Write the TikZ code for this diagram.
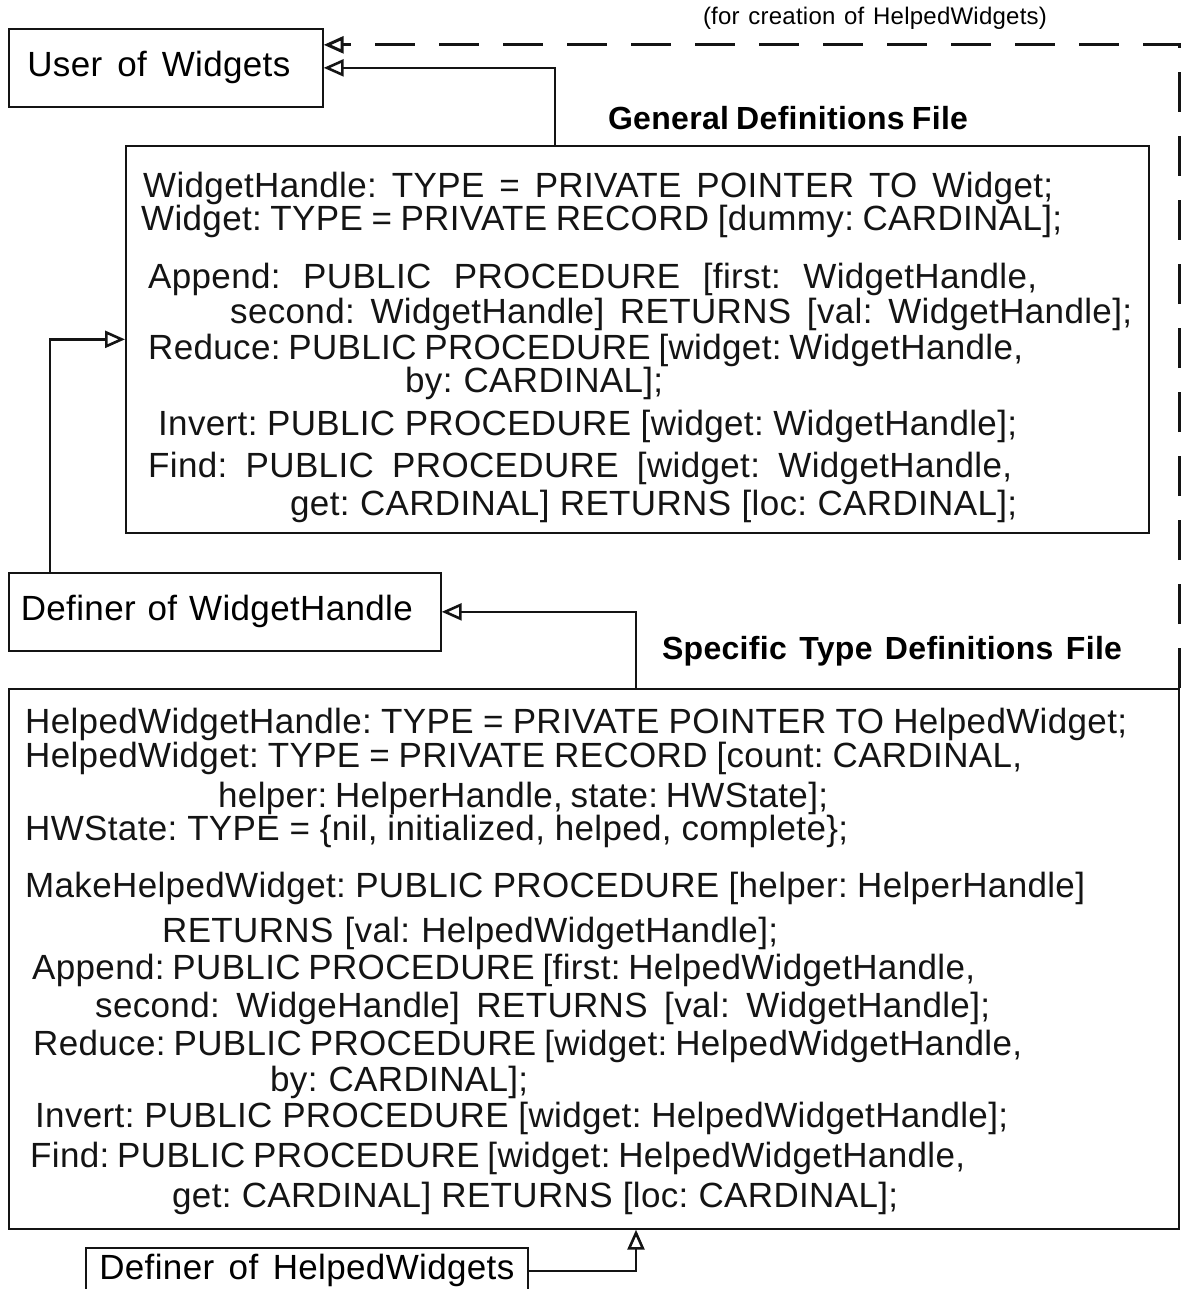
\documentclass[tikz,border=0pt]{standalone}
\usepackage{fontspec}
\setmainfont[LetterSpace=1]{Liberation Sans}
\usetikzlibrary{arrows.meta}
\definecolor{wink}{HTML}{141414}
\frenchspacing

\begin{document}
\begin{tikzpicture}[
  x=1pt,y=-1pt,
  font=\fontsize{35}{41}\selectfont,
  box/.style={draw=wink,line width=1.7pt,inner sep=0pt,anchor=north west},
  link/.style={draw=wink,line width=2.6pt,-{Triangle[open,length=20pt,width=17pt]}},
  dashlink/.style={link,line width=3pt,dash pattern=on 40pt off 24pt},
  title/.style={font=\bfseries\fontsize{32}{38}\selectfont},
  note/.style={font=\fontsize{24}{28}\selectfont},
  code/.style={anchor=base west,inner sep=0pt,text=wink}
]
  \useasboundingbox (0,0) rectangle (1182,1289);
  \node[box,minimum width=314pt,minimum height=78pt] (user) at (8,28)
    {\hspace*{-14pt}\makebox[263pt][s]{User of Widgets}};
  \node[box,minimum width=1023pt,minimum height=387pt] (gen) at (125,145) {};
  \node[box,minimum width=432pt,minimum height=78pt] (dwh) at (8,572)
    {\hspace*{-16pt}\makebox[392pt][s]{Definer of WidgetHandle}};
  \node[box,minimum width=1170pt,minimum height=540pt] (spec) at (8,688) {};
  \node[box,minimum width=442pt,minimum height=46pt] (dhw) at (85,1247)
    {\makebox[415pt][s]{Definer of HelpedWidgets}};
  \node[note] (forlbl) at (875,18) {\makebox[344pt][s]{(for creation of HelpedWidgets)}};
  \node[title] (genlbl) at (788,118) {\makebox[360pt][s]{General Definitions File}};
  \node[title] (speclbl) at (892,651) {\makebox[460pt][s]{Specific Type Definitions File}};
  \foreach \x/\y/\w/\txt [count=\i] in {
      143/198/910/{WidgetHandle: TYPE = PRIVATE POINTER TO Widget;},
      141/231/921/{Widget: TYPE = PRIVATE RECORD [dummy: CARDINAL];},
      148/288/889/{Append: PUBLIC PROCEDURE [first: WidgetHandle,},
      230/323/902/{second: WidgetHandle] RETURNS [val: WidgetHandle];},
      148/359/875/{Reduce: PUBLIC PROCEDURE [widget: WidgetHandle,},
      405/392/258/{by: CARDINAL];},
      158/435/859/{Invert: PUBLIC PROCEDURE [widget: WidgetHandle];},
      148/477/864/{Find: PUBLIC PROCEDURE [widget: WidgetHandle,},
      290/515/727/{get: CARDINAL] RETURNS [loc: CARDINAL];}}{
    \node[code] (g\i) at (\x,\y) {\makebox[\w pt][s]{\txt}};
  }
  \foreach \x/\y/\w/\txt [count=\i] in {
      25/733/1102/{HelpedWidgetHandle: TYPE = PRIVATE POINTER TO HelpedWidget;},
      25/767/997/{HelpedWidget: TYPE = PRIVATE RECORD [count: CARDINAL,},
      218/807/610/{helper: HelperHandle, state: HWState];},
      25/840/823/{HWState: TYPE = \{nil, initialized, helped, complete\};},
      25/897/1060/{MakeHelpedWidget: PUBLIC PROCEDURE [helper: HelperHandle]},
      162/942/616/{RETURNS [val: HelpedWidgetHandle];},
      32/979/943/{Append: PUBLIC PROCEDURE [first: HelpedWidgetHandle,},
      95/1017/895/{second: WidgeHandle] RETURNS [val: WidgetHandle];},
      33/1055/989/{Reduce: PUBLIC PROCEDURE [widget: HelpedWidgetHandle,},
      270/1091/258/{by: CARDINAL];},
      35/1127/973/{Invert: PUBLIC PROCEDURE [widget: HelpedWidgetHandle];},
      30/1167/935/{Find: PUBLIC PROCEDURE [widget: HelpedWidgetHandle,},
      172/1207/726/{get: CARDINAL] RETURNS [loc: CARDINAL];}}{
    \node[code] (s\i) at (\x,\y) {\makebox[\w pt][s]{\txt}};
  }
  \draw[link] ([xshift=430pt]gen.north west) |- (user.east);
  \draw[dashlink] (spec.north east) |- ([yshift=23pt]user.east);
  \draw[link] ([xshift=42pt]dwh.north west) |- (gen.west);
  \draw[link] ([xshift=628pt]spec.north west) |- (dwh.east);
  \draw[link] (dhw.east) -| ([xshift=628pt]spec.south west);
\end{tikzpicture}
\end{document}
